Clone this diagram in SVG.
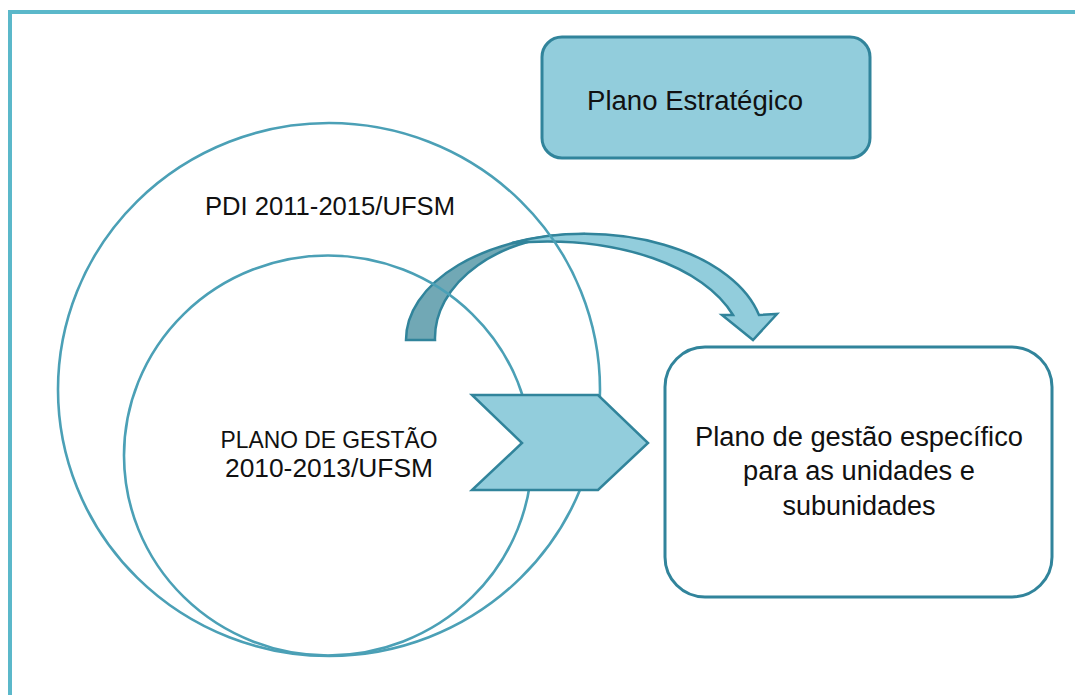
<svg xmlns="http://www.w3.org/2000/svg" width="1075" height="695" viewBox="0 0 1075 695">
<style>
.frame{stroke:#5BB8CA;stroke-width:4;fill:none}
.ring{fill:none;stroke:#4BA0B6;stroke-width:2.6}
.shape{stroke:#31849B;stroke-width:2.5;stroke-linejoin:miter}
.light{fill:#92CDDC}
.dark{fill:#71A8B5}
.box{fill:#92CDDC;stroke:#31849B;stroke-width:3}
.wbox{fill:#FFFFFF;stroke:#31849B;stroke-width:3}
text{font-family:"Liberation Sans",Arial,sans-serif;fill:#111111}
</style>
<rect width="1075" height="695" fill="#FFFFFF"/>
<g id="frame">
<line class="frame" x1="8" y1="12" x2="1075" y2="12"/>
<line class="frame" x1="10" y1="10" x2="10" y2="695"/>
</g>
<g id="connectors">
<path id="curved-arrow-back" class="shape dark" d="M406 340 A179 106 0 0 1 585 234 A150 104 0 0 0 435 340 Z"/>
<path id="curved-arrow-front" class="shape light" d="M512 243 A179 106 0 0 1 759 315 L777 314 L753 340 L722 315 L733 315 C705 268 620 234 512 243 Z"/>
</g>
<g id="pdi">
<ellipse class="ring" cx="329" cy="389.5" rx="271" ry="266.5"/>
<text x="330" y="215" font-size="25.4" text-anchor="middle" textLength="250" lengthAdjust="spacingAndGlyphs">PDI 2011-2015/UFSM</text>
</g>
<g id="plano-gestao">
<ellipse class="ring" cx="328" cy="455.5" rx="204" ry="200"/>
<text x="329" y="448" font-size="24.5" text-anchor="middle" textLength="217" lengthAdjust="spacingAndGlyphs">PLANO DE GESTÃO</text>
<text x="329" y="477" font-size="25.5" text-anchor="middle" textLength="208" lengthAdjust="spacingAndGlyphs">2010-2013/UFSM</text>
</g>
<g id="chevron">
<polygon class="shape light" points="472,395 598,395 648,443 598,490 472,490 522,443"/>
</g>
<g id="plano-estrategico">
<rect class="box" x="542" y="37" width="328" height="121" rx="20" ry="20"/>
<text x="587" y="110" font-size="27" textLength="216" lengthAdjust="spacingAndGlyphs">Plano Estratégico</text>
</g>
<g id="plano-especifico">
<rect class="wbox" x="665" y="347" width="387" height="250" rx="40" ry="40"/>
<text x="859" y="446" font-size="27" text-anchor="middle" textLength="328" lengthAdjust="spacingAndGlyphs">Plano de gestão específico</text>
<text x="859" y="480" font-size="27" text-anchor="middle" textLength="232" lengthAdjust="spacingAndGlyphs">para as unidades e</text>
<text x="859" y="515" font-size="27" text-anchor="middle" textLength="153" lengthAdjust="spacingAndGlyphs">subunidades</text>
</g>
</svg>
